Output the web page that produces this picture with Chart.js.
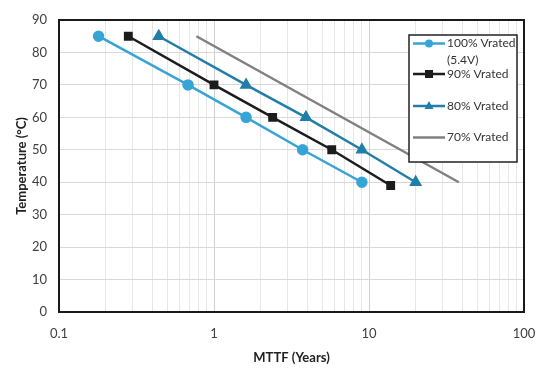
<!DOCTYPE html>
<html>
<head>
<meta charset="utf-8">
<script src="https://cdn.jsdelivr.net/npm/chart.js@4.4.1/dist/chart.umd.min.js"></script>
<style>
  html, body { margin: 0; padding: 0; background: #fff; }
  #wrap { width: 550px; height: 372px; }
</style>
</head>
<body>
<div id="wrap"><canvas id="mttfChart"></canvas></div>
<script>
// Data
const seriesNames = [['100% Vrated', '(5.4V)'], ['90% Vrated'], ['80% Vrated'], ['70% Vrated']];
const mttf100 = [0.18, 0.68, 1.61, 3.73, 9.0];
const temp100 = [85, 70, 60, 50, 40];
const mttf90 = [0.28, 1.0, 2.39, 5.75, 13.8];
const temp90 = [85, 70, 60, 50, 39];
const mttf80 = [0.44, 1.61, 3.92, 9.0, 20];
const temp80 = [85, 70, 60, 50, 40];
const mttf70 = [0.77, 38];
const temp70 = [85, 40];

const xTickLabels = [0.1, 1, 10, 100];
const xGridValues = [0.1, 0.2, 0.3, 0.4, 0.5, 0.6, 0.7, 0.8, 0.9,
                     1, 2, 3, 4, 5, 6, 7, 8, 9,
                     10, 20, 30, 40, 50, 60, 70, 80, 90, 100];

function toPoints(xs, ys) {
    return xs.map(function(x, i) { return { x: x, y: ys[i] }; });
}

const FONT = "Lato, 'Open Sans', sans-serif";

// Framed plot area plus an in-plot legend with a wrapped first label
const frameAndLegend = {
    id: 'frameAndLegend',
    afterDatasetsDraw(chart) {
        const ctx = chart.ctx;
        const a = chart.chartArea;
        ctx.save();
        ctx.strokeStyle = '#1a1a1a';
        ctx.lineWidth = 2;
        ctx.strokeRect(a.left, a.top, a.right - a.left, a.bottom - a.top);

        // legend box
        const bx = 409, by = 35, bw = 108, bh = 127;
        ctx.fillStyle = '#fff';
        ctx.fillRect(bx, by, bw, bh);
        ctx.strokeStyle = '#222';
        ctx.lineWidth = 1.5;
        ctx.strokeRect(bx, by, bw, bh);

        const rows = [43.5, 74, 106, 137.5];
        ctx.font = "12px " + FONT;
        ctx.textBaseline = 'middle';
        chart.data.datasets.forEach(function(ds, i) {
            const y = rows[i];
            ctx.strokeStyle = ds.borderColor;
            ctx.lineWidth = 2.5;
            ctx.beginPath();
            ctx.moveTo(413, y);
            ctx.lineTo(445, y);
            ctx.stroke();
            ctx.fillStyle = ds.pointBackgroundColor || ds.borderColor;
            const mx = 429, r = 4;
            if (ds.pointRadius > 0) {
                ctx.beginPath();
                if (ds.pointStyle === 'circle') {
                    ctx.arc(mx, y, r, 0, Math.PI * 2);
                } else if (ds.pointStyle === 'rect') {
                    ctx.rect(mx - r, y - r, 2 * r, 2 * r);
                } else if (ds.pointStyle === 'triangle') {
                    ctx.moveTo(mx, y - r - 1);
                    ctx.lineTo(mx + r + 0.5, y + r - 1);
                    ctx.lineTo(mx - r - 0.5, y + r - 1);
                    ctx.closePath();
                }
                ctx.fill();
            }
            ctx.fillStyle = '#333';
            seriesNames[i].forEach(function(line, k) {
                ctx.fillText(line, 447, y + k * 17);
            });
        });
        ctx.restore();
    }
};

const ctx = document.getElementById('mttfChart').getContext('2d');
const mttfChart = new Chart(ctx, {
    type: 'line',
    data: {
        datasets: [
            {
                label: seriesNames[0].join(' '),
                data: toPoints(mttf100, temp100),
                borderColor: '#37a4d6',
                pointBackgroundColor: '#37a4d6',
                pointBorderColor: '#37a4d6',
                pointStyle: 'circle',
                pointRadius: 4.5,
                borderWidth: 2.5
            },
            {
                label: seriesNames[1].join(' '),
                data: toPoints(mttf90, temp90),
                borderColor: '#1c1c1c',
                pointBackgroundColor: '#1c1c1c',
                pointBorderColor: '#1c1c1c',
                pointStyle: 'rect',
                pointRadius: 4.5,
                borderWidth: 2.5
            },
            {
                label: seriesNames[2].join(' '),
                data: toPoints(mttf80, temp80),
                borderColor: '#217ea8',
                pointBackgroundColor: '#217ea8',
                pointBorderColor: '#217ea8',
                pointStyle: 'triangle',
                pointRadius: 5,
                borderWidth: 2.5
            },
            {
                label: seriesNames[3].join(' '),
                data: toPoints(mttf70, temp70),
                borderColor: '#808080',
                pointRadius: 0,
                borderWidth: 2.5
            }
        ]
    },
    options: {
        responsive: true,
        maintainAspectRatio: false,
        animation: false,
        layout: { padding: { left: 0, top: 20, right: 26, bottom: 0 } },
        plugins: {
            legend: { display: false },
            tooltip: { enabled: false }
        },
        scales: {
            x: {
                type: 'logarithmic',
                min: 0.1,
                max: 100,
                afterBuildTicks: function(scale) {
                    scale.ticks = xGridValues.map(function(v) { return { value: v }; });
                },
                afterFit: function(scale) { scale.height = 60; },
                ticks: {
                    autoSkip: false,
                    maxRotation: 0,
                    padding: 14,
                    color: '#404040',
                    font: { family: FONT, size: 13 },
                    callback: function(value) {
                        return xTickLabels.includes(value) ? String(value) : '';
                    }
                },
                grid: {
                    drawTicks: false,
                    color: function(c) {
                        return c.tick && (c.tick.value === 1 || c.tick.value === 10) ? '#cfcfcf' : '#e6e6e6';
                    }
                },
                border: { display: false },
                title: {
                    display: true,
                    text: 'MTTF (Years)',
                    color: '#222',
                    font: { family: FONT, size: 13, weight: 'bold' },
                    padding: { top: 0, bottom: 6 }
                }
            },
            y: {
                min: 0,
                max: 90,
                afterFit: function(scale) { scale.width = 59; },
                ticks: {
                    stepSize: 10,
                    padding: 12,
                    color: '#404040',
                    font: { family: FONT, size: 13 }
                },
                grid: { drawTicks: false, color: '#d9d9d9' },
                border: { display: false },
                title: {
                    display: true,
                    text: 'Temperature (°C)',
                    color: '#222',
                    font: { family: FONT, size: 13, weight: 'bold' },
                    padding: { top: 14, bottom: 0 }
                }
            }
        }
    },
    plugins: [frameAndLegend]
});
</script>
</body>
</html>
